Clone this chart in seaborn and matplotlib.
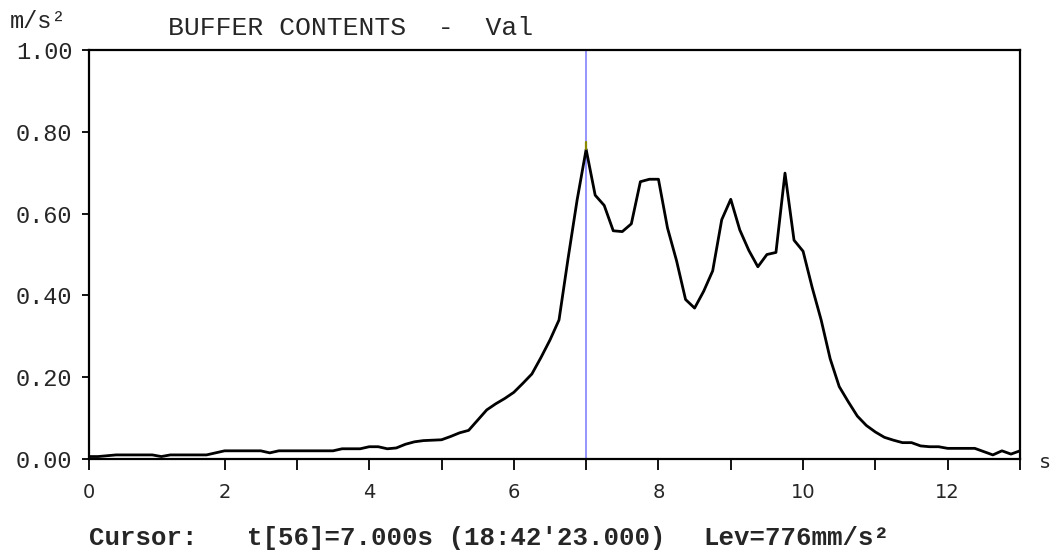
import numpy as np
import pandas as pd
import matplotlib
matplotlib.use("Agg")
import matplotlib.pyplot as plt
import seaborn as sns

# ---- data ----
dt = 0.125
values = [
    0.006, 0.006, 0.006, 0.008, 0.010, 0.010, 0.010, 0.010, 0.010, 0.006,
    0.010, 0.010, 0.010, 0.010, 0.010, 0.015, 0.020, 0.020, 0.020, 0.020,
    0.020, 0.015, 0.020, 0.020, 0.020, 0.020, 0.020, 0.020, 0.020, 0.025,
    0.025, 0.025, 0.030, 0.030, 0.025, 0.027, 0.036, 0.042, 0.045, 0.046,
    0.047, 0.055, 0.064, 0.070, 0.095, 0.120, 0.135, 0.148, 0.163, 0.185,
    0.208, 0.248, 0.291, 0.340, 0.490, 0.633, 0.757, 0.645, 0.620, 0.558,
    0.556, 0.575, 0.678, 0.684, 0.684, 0.565, 0.485, 0.390, 0.369, 0.410,
    0.460, 0.585, 0.635, 0.560, 0.510, 0.470, 0.500, 0.505, 0.699, 0.535,
    0.508, 0.420, 0.340, 0.245, 0.177, 0.140, 0.105, 0.082, 0.066, 0.053,
    0.046, 0.040, 0.040, 0.032, 0.030, 0.030, 0.026, 0.026, 0.026, 0.026,
    0.018, 0.010, 0.020, 0.012, 0.020,
]
times = [i * dt for i in range(len(values))]
cursor_t = 7.0
cursor_level = 0.776
x_start, x_end = 0.125, 13.0
x_ticks = [x_start, 2, 3, 4, 5, 6, 7, 8, 9, 10, 11, 12, 13]
x_labels = ["0", "2", "", "4", "", "6", "", "8", "", "10", "", "12", ""]
y_ticks = [0.0, 0.2, 0.4, 0.6, 0.8, 1.0]
y_labels = ["0.00", "0.20", "0.40", "0.60", "0.80", "1.00"]
title = "BUFFER CONTENTS  -  Val"
y_unit = "m/s\u00b2"
x_unit = "s"
cursor_label = "Cursor:"
cursor_time = "t[56]=7.000s (18:42'23.000)"
cursor_lev = "Lev=776mm/s\u00b2"

df = pd.DataFrame({"t": times, "v": values})

sns.set_style("white")
plt.rcParams["font.family"] = ["Liberation Mono", "DejaVu Sans Mono"]

W, H = 1051, 554
fig = plt.figure(figsize=(W / 100, H / 100), dpi=100)
fig.patch.set_facecolor("white")
ax = fig.add_axes([89 / W, 1 - 459 / H, 931 / W, 409 / H])

ax.axvline(cursor_t, color="#8c8cff", lw=1.3, zorder=1)
sns.lineplot(data=df, x="t", y="v", color="black", lw=2.0, ax=ax, zorder=2)
ax.plot([cursor_t, cursor_t], [0.757, cursor_level], color="#8a8a00", lw=1.6, zorder=3)

ax.set_xlim(x_start, x_end)
ax.set_ylim(0, 1.0)
ax.set_xlabel("")
ax.set_ylabel("")

ax.set_xticks(x_ticks)
ax.set_xticklabels(x_labels, family=["Liberation Sans Narrow", "DejaVu Sans"], fontsize=14)
ax.set_yticks(y_ticks)
ax.set_yticklabels(y_labels, family=["Liberation Mono"], fontsize=17)

ax.tick_params(axis="x", direction="out", length=8, width=1.3, color="black", pad=9, bottom=True)
ax.tick_params(axis="y", direction="out", length=5, width=1.3, color="black", pad=7, left=True)

for s in ax.spines.values():
    s.set_visible(True)
    s.set_color("black")
    s.set_linewidth(1.6)

ax.grid(False)
ax.set_facecolor("white")

fig.text(10 / W, 1 - 21 / H, y_unit, ha="left", va="center", fontsize=17,
         family=["Liberation Mono"])
fig.text(168 / W, 1 - 28 / H, title, ha="left", va="center", fontsize=19,
         family=["Liberation Mono"])
fig.text(1040 / W, 1 - 462 / H, x_unit, ha="left", va="center", fontsize=14,
         family=["Liberation Sans Narrow", "DejaVu Sans"])
cy = 1 - 538 / H
fig.text(89 / W, cy, cursor_label, ha="left", va="center", fontsize=18.5,
         fontweight="bold", family=["Liberation Mono"])
fig.text(247 / W, cy, cursor_time, ha="left", va="center", fontsize=18.5,
         fontweight="bold", family=["Liberation Mono"])
fig.text(703 / W, cy, cursor_lev, ha="left", va="center", fontsize=18.5,
         fontweight="bold", family=["Liberation Mono"])

fig.savefig("out.png", dpi=100, facecolor="white")
